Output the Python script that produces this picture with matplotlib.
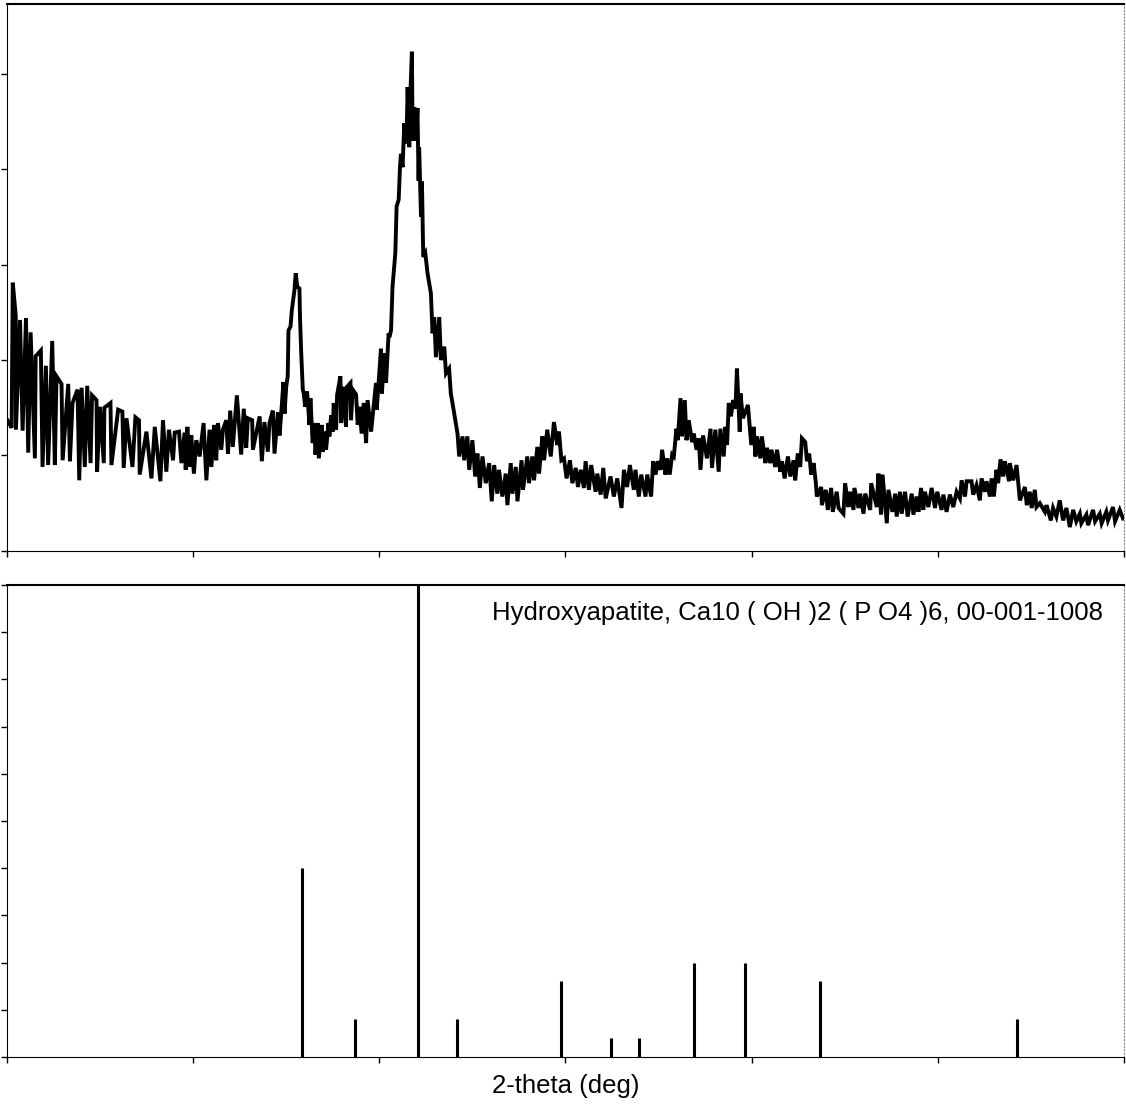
import matplotlib.pyplot as plt
from matplotlib import font_manager

# measured pattern (2-theta in deg, counts)
two_theta = [
    10.02, 10.25, 10.31, 10.47, 10.48, 10.70, 10.84, 11.02, 11.14, 11.27,
    11.50, 11.54, 11.82, 11.91, 12.09, 12.21, 12.43, 12.57, 12.66, 12.93,
    12.99, 13.29, 13.38, 13.52, 13.79, 13.88, 14.01, 14.18, 14.31, 14.49,
    14.57, 14.81, 14.84, 14.99, 15.20, 15.23, 15.56, 15.61, 15.97, 16.20,
    16.27, 16.42, 16.74, 16.90, 17.09, 17.13, 17.49, 17.76, 17.94, 18.24,
    18.38, 18.56, 18.70, 18.92, 19.01, 19.24, 19.37, 19.54,
    19.60, 19.69, 19.81, 19.90, 20.04, 20.17, 20.35, 20.56, 20.71, 20.88,
    20.98, 21.12, 21.24, 21.33, 21.51, 21.60, 21.78, 21.87, 21.99, 22.13,
    22.35, 22.58, 22.72, 22.85, 22.94, 23.17, 23.21, 23.57, 23.69, 23.83,
    24.01, 24.10, 24.28, 24.37, 24.55, 24.64, 24.73, 24.85, 24.91, 25.00,
    25.08, 25.12, 25.23, 25.30, 25.44, 25.51, 25.59, 25.71, 25.74, 25.80,
    25.89, 25.94, 26.02, 26.12, 26.25, 26.30, 26.42, 26.51, 26.57, 26.69,
    26.75, 26.91, 26.96, 27.05, 27.14, 27.27, 27.32, 27.41, 27.50, 27.55,
    27.68, 27.73, 27.91, 27.95, 28.09, 28.21, 28.27, 28.45, 28.48, 28.57,
    28.75, 28.84, 28.93, 29.05, 29.16, 29.29, 29.37, 29.56,
    29.82, 29.86, 30.09, 30.14, 30.27, 30.36, 30.50, 30.54, 30.63, 30.71,
    30.86, 30.93, 31.04, 31.11, 31.16, 31.25, 31.34, 31.46, 31.52, 31.61,
    31.65, 31.75, 31.79, 31.88, 31.97, 32.05, 32.11, 32.14, 32.24, 32.29,
    32.36, 32.47, 32.59, 32.77, 32.86, 32.95, 33.04, 33.22, 33.31, 33.49,
    33.58, 33.75, 33.84, 33.93, 34.08, 34.20, 34.29, 34.47, 34.56, 34.73,
    34.83, 35.00, 35.15, 35.27, 35.40, 35.54, 35.72, 35.90, 36.04, 36.17,
    36.34, 36.43, 36.61, 36.79, 36.88, 37.06, 37.15, 37.33, 37.42, 37.64,
    37.72, 37.95, 38.04, 38.22, 38.31, 38.49, 38.58, 38.76, 38.85, 39.02,
    39.21, 39.38, 39.56, 39.65,
    39.78, 39.92, 40.06, 40.24, 40.37, 40.55, 40.67, 40.82, 40.99, 41.08,
    41.26, 41.38, 41.62, 41.71, 41.89, 42.03, 42.16, 42.42, 42.60, 42.78,
    43.01, 43.14, 43.31, 43.46, 43.67, 43.76, 43.94, 44.07, 44.30, 44.39,
    44.60, 44.71, 44.84, 44.96, 45.11, 45.19, 45.37, 45.46, 45.60, 45.73,
    45.82, 45.96, 46.03, 46.18, 46.26, 46.41, 46.50, 46.62, 46.80, 46.89,
    47.04, 47.16, 47.25, 47.39, 47.60, 47.79, 47.87, 48.05, 48.23, 48.32,
    48.50, 48.59, 48.68, 48.77, 48.89, 49.00, 49.13, 49.21, 49.36, 49.40,
    49.53,
    49.80, 49.98, 50.11, 50.20, 50.29, 50.47, 50.55, 50.74, 50.82, 51.00,
    51.06, 51.27, 51.36, 51.54, 51.63, 51.77, 51.95, 52.08, 52.25, 52.34,
    52.48, 52.61, 52.70, 52.88, 52.97, 53.09, 53.20, 53.33, 53.45, 53.50,
    53.74, 53.77, 53.98, 54.09, 54.27, 54.36, 54.57, 54.67, 54.93, 55.02,
    55.20, 55.29, 55.47, 55.52, 55.74, 55.83, 56.01, 56.10, 56.37, 56.42,
    56.72, 56.81, 56.95, 57.03, 57.26, 57.35, 57.56, 57.71, 57.79, 57.97,
    58.06, 58.24, 58.38, 58.60, 58.69, 58.86, 58.96, 59.10, 59.22,
    59.31, 59.49, 59.67, 59.85, 59.97, 60.20, 60.30, 60.47, 60.65, 60.83,
    61.01, 61.19, 61.28, 61.46, 61.55, 61.81, 61.90, 62.08, 62.26, 62.35,
    62.53, 62.62, 62.80, 62.89, 63.01, 63.15, 63.24, 63.37, 63.51, 63.60,
    63.83, 63.87, 64.05, 64.23, 64.41, 64.68, 64.78, 64.94, 65.04, 65.21,
    65.30, 65.48, 65.75, 65.84, 66.07, 66.19, 66.37, 66.55, 66.73, 66.91,
    67.09, 67.27, 67.44, 67.63, 67.71, 67.98, 68.07, 68.34, 68.45, 68.70,
    68.80, 69.05, 69.14, 69.41, 69.52, 69.77, 69.95,
]
counts = [
    137, 129, 281, 247, 127, 242, 126, 244, 103, 229,
    97, 204, 210, 88, 194, 90, 220, 90, 183, 175,
    95, 175, 94, 155, 169, 74, 171, 88, 173, 92,
    163, 158, 83, 151, 92, 150, 155, 90, 148, 146,
    87, 139, 88, 140, 137, 80, 125, 76, 130, 73,
    137, 83, 127, 95, 124, 125, 92, 124,
    85, 130, 88, 121, 81, 116, 99, 134, 74, 127,
    88, 132, 95, 134, 106, 127, 137, 102, 147, 109,
    163, 101, 149, 108, 139, 137, 106, 141, 94, 135,
    104, 134, 147, 102, 145, 121, 144, 177, 144, 172,
    183, 231, 235, 252, 273, 291, 277, 275, 245, 210,
    169, 165, 151, 167, 132, 160, 113, 134, 101, 134,
    97, 132, 104, 125, 106, 134, 120, 142, 125, 155,
    127, 163, 183, 134, 172, 130, 172, 176, 137, 169,
    164, 132, 151, 123, 155, 113, 158, 125,
    176, 148, 212, 165, 207, 176, 228, 224, 231, 277,
    312, 361, 368, 402, 416, 402, 448, 427, 486, 423,
    469, 523, 430, 465, 430, 464, 388, 423, 350, 387,
    308, 312, 291, 270, 228, 245, 203, 245, 200, 214,
    186, 191, 165, 155, 137, 123, 99, 120, 95, 120,
    85, 116, 78, 102, 66, 99, 71, 92, 52, 90,
    60, 85, 57, 81, 48, 92, 60, 88, 52, 95,
    64, 99, 71, 99, 74, 109, 81, 120, 95, 127,
    99, 135, 111, 125,
    95, 97, 76, 95, 71, 87, 67, 85, 66, 94,
    64, 90, 62, 81, 59, 87, 55, 78, 57, 76,
    45, 85, 67, 90, 64, 85, 57, 80, 57, 80,
    57, 94, 80, 94, 85, 106, 80, 97, 80, 101,
    99, 128, 116, 160, 120, 158, 116, 137, 114, 123,
    106, 118, 85, 121, 97, 128, 87, 127, 83, 128,
    99, 130, 111, 155, 141, 158, 149, 191, 125, 165,
    139,
    153, 111, 130, 99, 120, 97, 120, 92, 108, 92,
    106, 88, 106, 83, 94, 76, 99, 78, 95, 74,
    102, 88, 118, 114, 94, 102, 80, 92, 71, 57,
    67, 48, 64, 43, 66, 41, 62, 45, 39, 71,
    46, 62, 43, 66, 45, 60, 39, 60, 43, 71,
    46, 81, 38, 80, 29, 64, 41, 60, 36, 62,
    39, 62, 36, 60, 38, 57, 41, 66, 43,
    62, 46, 66, 45, 62, 43, 59, 41, 59, 46,
    62, 55, 74, 57, 73, 73, 59, 69, 53, 76,
    62, 73, 57, 76, 57, 85, 71, 96, 78, 94,
    73, 92, 74, 90, 53, 67, 48, 62, 45, 64,
    46, 50, 41, 48, 32, 45, 36, 53, 32, 45,
    25, 43, 31, 39, 29, 38, 27, 43, 31, 39,
    29, 41, 32, 46, 31, 43, 34,
]

# reference card lines
ref_pos = [25.87, 28.71, 32.09, 34.18, 39.76, 42.44, 43.94, 46.89, 49.63, 53.65, 64.26]
ref_int = [40, 8, 100, 8, 16, 4, 4, 20, 20, 16, 8]
ref_label = 'Hydroxyapatite, Ca10 ( OH )2 ( P O4 )6, 00-001-1008'
x_label = '2-theta (deg)'

names = {f.name for f in font_manager.fontManager.ttflist}
fam = ['Liberation Sans Narrow'] if 'Liberation Sans Narrow' in names else ['Liberation Sans']
fsize = 22.5 if fam[0] == 'Liberation Sans Narrow' else 18.5

fig = plt.figure(figsize=(11.26, 11.11), dpi=100)
ax1 = fig.add_axes([0.0062, 0.5041, 0.9920, 0.4923])
ax2 = fig.add_axes([0.0062, 0.0486, 0.9920, 0.4248])

ax1.plot(two_theta, counts, color='black', lw=2.8, solid_joinstyle='miter')
ax1.set_ylim(0, 573)
ax1.set_yticks(range(0, 501, 100))

ax2.vlines(ref_pos, 0, ref_int, color='black', lw=2.2)
ax2.set_ylim(0, 100)
ax2.set_yticks(range(0, 101, 10))
ax2.text(0.981, 0.94, ref_label, transform=ax2.transAxes, ha='right', va='center',
         fontsize=fsize, family=fam)

for ax in (ax1, ax2):
    ax.set_xlim(10, 70)
    ax.set_xticks(range(10, 71, 10))
    ax.tick_params(direction='out', length=4, width=1, color='black',
                   labelleft=False, labelbottom=False)
    ax.spines['top'].set_linewidth(1.5)
    ax.spines['left'].set_linestyle((0, (2, 1)))
    ax.spines['bottom'].set_linestyle((0, (2, 1)))
    ax.spines['right'].set_linestyle((0, (1, 2)))
    ax.spines['right'].set_color('#888888')

fig.text(566 / 1126, 1 - 1086 / 1111, x_label, ha='center', va='center',
         fontsize=fsize, family=fam)

fig.savefig('out.png', dpi=100)
